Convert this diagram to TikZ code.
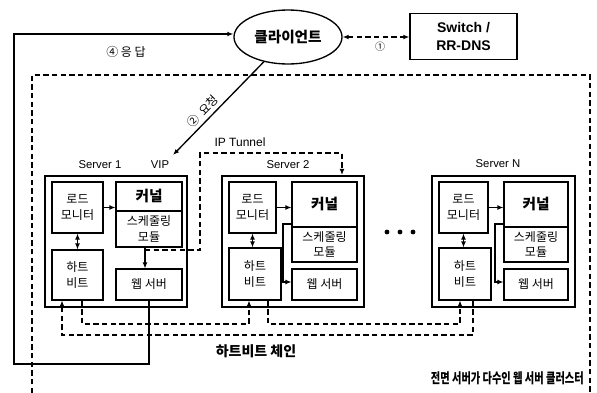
\documentclass[tikz,border=0pt]{standalone}
\usepackage{fontspec}
\usepackage{graphicx}
\setmainfont{Liberation Sans}
\newfontfamily\kr{Noto Sans CJK KR}
\usetikzlibrary{arrows.meta,shapes.geometric}
\newcommand\bx[7][]{\node[ibox,#1,minimum width={(#5-#3)*0.75pt},minimum height={(#6-#4)*0.75pt}] (#2) at ({(#3+#5)/2},{(#4+#6)/2}) {#7};}
\begin{document}
\begin{tikzpicture}[x=0.75pt,y=-0.75pt,
  ibox/.style={draw,line width=0.8pt,inner sep=0pt,align=center,font=\kr\fontsize{9}{11.5}\selectfont},
  kbox/.style={font=\kr\bfseries\fontsize{11}{13}\selectfont},
  sbox/.style={line width=1.6pt},
  tip/.style={-{Latex[length=4.5pt,width=3.6pt]}},
  dtip/.style={{Latex[length=4.5pt,width=3.6pt]}-{Latex[length=4.5pt,width=3.6pt]}},
  arr/.style={tip,line width=0.8pt},
  dline/.style={line width=0.8pt,dash pattern=on 4pt off 2.5pt},
  lbl/.style={inner sep=0pt,font=\fontsize{8.5}{10}\selectfont},
  klbl/.style={inner sep=1pt,font=\kr\fontsize{9}{10}\selectfont}]

\useasboundingbox (0,0) rectangle (597,393);

% client and switch
\node[ellipse,draw,line width=1pt,minimum width=81pt,minimum height=40.5pt,inner sep=0pt,
      font=\kr\bfseries\fontsize{11}{12}\selectfont] (cl) at (288,37) {클라이언트};
\node[draw,line width=1pt,minimum width=80.25pt,minimum height=34.5pt,inner sep=0pt,align=center,
      font=\bfseries\fontsize{10.5}{14}\selectfont] (sw) at (463.5,36.5) {Switch /\\RR-DNS};
\draw[dline,dtip] (cl.east) -- (cl.east -| sw.west);
\node[klbl,font=\kr\fontsize{7.5}{9}\selectfont] (n1) at (380,47) {①};

% cluster boundary
\draw[dline] (32,393) -- (32,75) -- (590,75) -- (590,393);

% server labels
\node[lbl] (l1) at (100,165) {Server 1};
\node[lbl] (vipl) at (160,165) {VIP};
\node[lbl] (l2) at (288,165) {Server 2};
\node[lbl] (ln) at (498,164) {Server N};
\node[lbl,font=\fontsize{9}{10}\selectfont] (ipt) at (240,142) {IP Tunnel};

% Server 1
\bx[sbox]{s1}{45}{176}{187}{307}{}
\bx{s1lm}{52}{182}{103}{233}{로드\\모니터}
\bx[kbox]{s1k}{116}{182}{182}{211}{커널}
\bx{s1s}{116}{211}{182}{247}{스케줄링\\모듈}
\bx{s1hb}{52}{250}{103}{300}{하트\\비트}
\bx{s1w}{116}{269}{182}{300}{웹 서버}

% Server 2
\bx[sbox]{s2}{222}{176}{364}{307}{}
\bx{s2lm}{229}{182}{276}{233}{로드\\모니터}
\bx[kbox]{s2k}{292}{182}{357}{227}{커널}
\bx{s2s}{292}{227}{357}{262}{스케줄링\\모듈}
\bx{s2hb}{229}{248}{281}{300}{하트\\비트}
\bx{s2w}{292}{269}{357}{300}{웹 서버}

% Server N
\bx[sbox]{sn}{432}{176}{575}{307}{}
\bx{snlm}{439}{182}{488}{233}{로드\\모니터}
\bx[kbox]{snk}{504}{182}{568}{227}{커널}
\bx{sns}{504}{227}{568}{262}{스케줄링\\모듈}
\bx{snhb}{439}{248}{491}{300}{하트\\비트}
\bx{snw}{504}{269}{568}{300}{웹 서버}

% dots
\fill (387,232) circle[radius=1.8pt];
\fill (400,232) circle[radius=1.8pt];
\fill (413,232) circle[radius=1.8pt];

% internal connectors
\draw[arr] (s1lm.east) -- (s1lm.east -| s1k.west);
\draw[arr] (s2lm.east) -- (s2lm.east -| s2k.west);
\draw[arr] (snlm.east) -- (snlm.east -| snk.west);
\draw[dtip,line width=0.8pt] (s1lm.south) -- (s1lm.south |- s1hb.north);
\draw[dtip,line width=0.8pt] (s2lm.south) -- (s2lm.south |- s2hb.north);
\draw[dtip,line width=0.8pt] (snlm.south) -- (snlm.south |- snhb.north);

\coordinate (t1) at (145,250);
\draw[arr] (s1s.south -| t1) -- (s1w.north -| t1);
\coordinate (e2a) at (283,224); \coordinate (e2b) at (283,282);
\draw[arr] (s2k.west |- e2a) -- (e2a) -- (e2b) -- (e2b -| s2w.west);
\coordinate (ena) at (495,224); \coordinate (enb) at (495,282);
\draw[arr] (snk.west |- ena) -- (ena) -- (enb) -- (enb -| snw.west);

% IP tunnel
\coordinate (tu1) at (200,153); \coordinate (tu2) at (342,153);
\draw[dline,tip] (t1) -| (tu1) -- (tu2) -- (tu2 |- s2.north);

% request / response
\coordinate (vip) at (173,155);
\draw[arr,line width=1pt] (cl) -- (vip) node[pos=0.6,sloped,above=1pt,klbl] (n2) {②\hspace{3pt}요청};
\coordinate (rb) at (14,364); \coordinate (rt) at (14,34);
\draw[arr,line width=1pt] (s1w.south) |- (rb) -- (rt) -- (rt -| cl.west);
\node[klbl] (n4) at (126,52) {④ 응 답};

% heartbeat chain
\coordinate (h1a) at (62,335); \coordinate (h1b) at (82,324);
\coordinate (h2a) at (249,324); \coordinate (h2b) at (268,324);
\coordinate (hna) at (460,324); \coordinate (hnb) at (473,335);
\draw[dline,tip] (s1hb.south -| h1b) -- (h1b) -- (h2a) -- (h2a |- s2hb.south);
\draw[dline,tip] (s2hb.south -| h2b) -- (h2b) -- (hna) -- (hna |- snhb.south);
\draw[dline,tip] (snhb.south -| hnb) -- (hnb) -- (h1a) -- (h1a |- s1hb.south);

\node[inner sep=0pt,font=\kr\bfseries\fontsize{10.5}{12}\selectfont] (hbc) at (256,351) {하트비트 체인};
\node[anchor=east,inner sep=0pt,font=\kr\bfseries\fontsize{10.5}{12}\selectfont] (cap) at (584,378)
  {\scalebox{0.73}[1]{전면 서버가 다수인 웹 서버 클러스터}};
\end{tikzpicture}
\end{document}
